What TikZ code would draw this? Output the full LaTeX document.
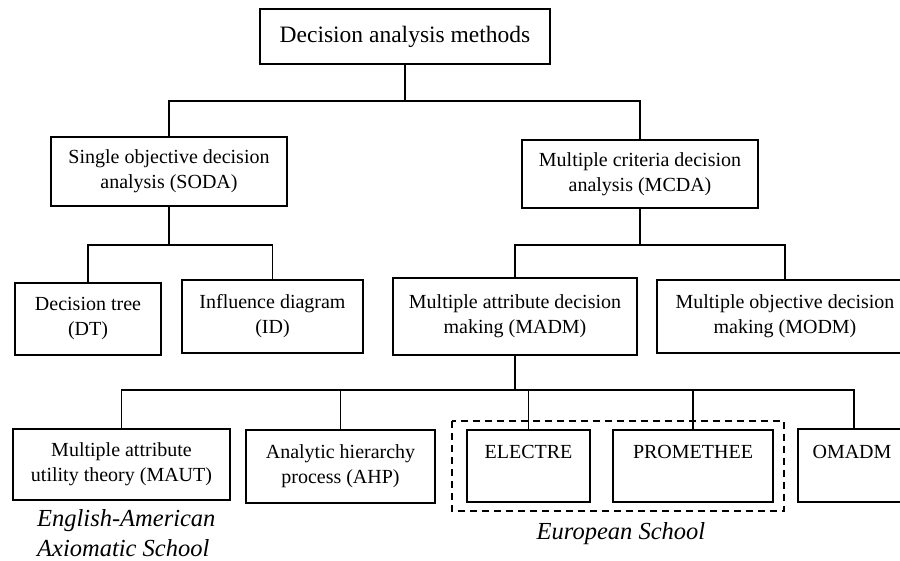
\documentclass[tikz,border=0pt]{standalone}
\usepackage{fontspec}
\setmainfont{Liberation Serif}
\begin{document}
\begin{tikzpicture}[x=1pt,y=-1pt,
  boxstyle/.style={draw, line width=1.6pt, rectangle, inner sep=0pt, align=center,
    font=\fontsize{20}{25}\selectfont},
  conn/.style={line width=1.6pt},
  schoolstyle/.style={font=\fontsize{24.5}{30}\selectfont\itshape, inner sep=0pt},
  onetext/.style={font=\fontsize{20}{25}\selectfont, anchor=base, inner sep=0pt}]
\clip (0,0) rectangle (900,561);
\useasboundingbox (0,0) rectangle (900,561);
% boxes
\node[boxstyle, minimum width=290pt, minimum height=55pt, font=\fontsize{23.5}{28}\selectfont] (top) at (405,36.5) {Decision analysis methods};
\node[boxstyle, minimum width=236pt, minimum height=69pt] (soda) at (169,171.5) {Single objective decision\\analysis (SODA)};
\node[boxstyle, minimum width=236pt, minimum height=68pt] (mcda) at (640,174) {Multiple criteria decision\\analysis (MCDA)};
\node[boxstyle, minimum width=146pt, minimum height=72pt] (dt) at (88,319) {Decision tree\\(DT)};
\node[boxstyle, minimum width=181pt, minimum height=73pt] (id) at (272.5,316.5) {Influence diagram\\(ID)};
\node[boxstyle, minimum width=244pt, minimum height=77pt] (madm) at (515,316.5) {Multiple attribute decision\\making (MADM)};
\node[boxstyle, minimum width=256pt, minimum height=73pt] (modm) at (785,316.5) {Multiple objective decision\\making (MODM)};
\node[boxstyle, minimum width=217pt, minimum height=71pt] (maut) at (121.5,464.5) {Multiple attribute\\utility theory (MAUT)};
\node[boxstyle, minimum width=189pt, minimum height=73pt] (ahp) at (340.5,466.5) {Analytic hierarchy\\process (AHP)};
\node[boxstyle, minimum width=123pt, minimum height=72pt] (electre) at (528.5,466) {};
\node[boxstyle, minimum width=160pt, minimum height=72pt] (prom) at (693,466) {};
\node[boxstyle, minimum width=112pt, minimum height=73pt] (omadm) at (854,465.5) {};
\node[onetext] (electretxt) at (528.5,458) {ELECTRE};
\node[onetext] (promtxt) at (693,458) {PROMETHEE};
\node[onetext] (omadmtxt) at (852,458) {OMADM};
% dashed group
\draw[line width=1.6pt, dash pattern=on 7pt off 5pt] (452,421) rectangle (784,511);
% school labels
\node[schoolstyle, anchor=west, align=left] (eng) at (37,533) {English-American\\Axiomatic School};
\node[schoolstyle] (euro) at (621,534) {European School};
% junctions
\coordinate (j1) at (405,101);
\coordinate (j2) at (169,245);
\coordinate (j3) at (640,245);
\coordinate (j4) at (515,390);
% connectors
\draw[conn] (top.south) -- (j1);
\draw[conn] (soda.north) |- (j1) -| (mcda.north);
\draw[conn] (soda.south) -- (j2);
\draw[conn] (dt.north) |- (j2) -| (id.north);
\draw[conn] (mcda.south) -- (j3);
\draw[conn] (madm.north) |- (j3) -| (modm.north);
\draw[conn] (madm.south) -- (j4);
\draw[conn] (maut.north) |- (j4) -| (omadm.north);
\draw[conn] (ahp.north) -- (ahp.north |- j4);
\draw[conn] (electre.north) -- (electre.north |- j4);
\draw[conn] (prom.north) -- (prom.north |- j4);
\end{tikzpicture}
\end{document}
